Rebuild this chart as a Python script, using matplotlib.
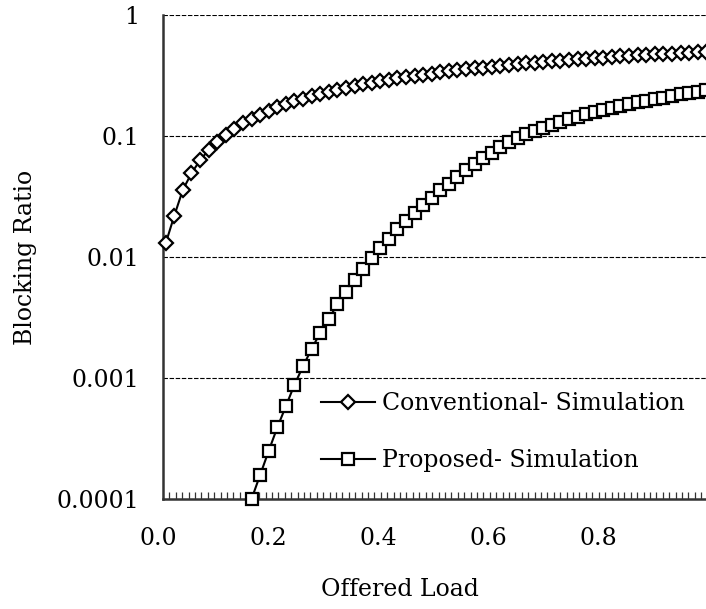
import numpy as np
import matplotlib
matplotlib.use("Agg")
import matplotlib.pyplot as plt
import matplotlib.transforms as mtransforms
from matplotlib.ticker import FixedLocator, NullLocator, FixedFormatter

# ---- data ----
load = [0.005, 0.0206, 0.0362, 0.0518, 0.0674, 0.083, 0.0986, 0.1142, 0.1298, 0.1454,
        0.161, 0.1766, 0.1922, 0.2078, 0.2234, 0.239, 0.2546, 0.2702, 0.2858, 0.3014,
        0.317, 0.3326, 0.3482, 0.3638, 0.3794, 0.395, 0.4106, 0.4262, 0.4418, 0.4574,
        0.473, 0.4886, 0.5042, 0.5198, 0.5354, 0.551, 0.5666, 0.5822, 0.5978, 0.6134,
        0.629, 0.6446, 0.6602, 0.6758, 0.6914, 0.707, 0.7226, 0.7382, 0.7538, 0.7694,
        0.785, 0.8006, 0.8162, 0.8318, 0.8474, 0.863, 0.8786, 0.8942, 0.9098, 0.9254,
        0.941, 0.9566, 0.9722, 0.9878]

conventional = [0.013, 0.022, 0.036, 0.0492, 0.0631, 0.0766, 0.0897, 0.1025, 0.1149, 0.1269,
                0.1387, 0.1501, 0.1612, 0.1721, 0.1826, 0.1929, 0.2029, 0.2127, 0.2223, 0.2316,
                0.2407, 0.2496, 0.2583, 0.2668, 0.2750, 0.2832, 0.2911, 0.2988, 0.3064, 0.3138,
                0.3211, 0.3282, 0.3352, 0.3420, 0.3487, 0.3553, 0.3617, 0.3680, 0.3741, 0.3802,
                0.3861, 0.3919, 0.3977, 0.4033, 0.4088, 0.4142, 0.4195, 0.4247, 0.4298, 0.4348,
                0.4398, 0.4446, 0.4494, 0.4541, 0.4587, 0.4632, 0.4677, 0.4721, 0.4764, 0.4806,
                0.4848, 0.4889, 0.4930, 0.4969]

proposed = [1.0e-4, 1.58e-4, 2.5e-4, 3.9e-4, 5.85e-4, 8.8e-4, 1.25e-3, 1.74e-3, 2.36e-3, 3.09e-3,
            4.05e-3, 5.13e-3, 6.44e-3, 8.0e-3, 9.9e-3, 1.19e-2, 1.42e-2, 1.69e-2, 1.97e-2, 2.31e-2,
            2.67e-2, 3.08e-2, 3.55e-2, 4.04e-2, 4.61e-2, 5.2e-2, 5.85e-2, 6.55e-2, 7.26e-2, 8.05e-2,
            8.86e-2, 9.69e-2, 0.104, 0.1106, 0.1175, 0.1244, 0.1309, 0.1375, 0.1445, 0.1508,
            0.1574, 0.1644, 0.1703, 0.1766, 0.1830, 0.1892, 0.1954, 0.2018, 0.2080, 0.2139,
            0.2203, 0.2265, 0.2323, 0.2388]

x_ticks = [0.0, 0.2, 0.4, 0.6, 0.8]
x_ticklabels = ["0.0", "0.2", "0.4", "0.6", "0.8"]
y_ticks = [1e-4, 1e-3, 1e-2, 1e-1, 1]
y_ticklabels = ["0.0001", "0.001", "0.01", "0.1", "1"]

series_names = ["Conventional- Simulation", "Proposed- Simulation"]

# ---- figure ----
plt.rcParams['font.family'] = ['DejaVu Serif']
FS = 17
W, H = 706, 609
fig = plt.figure(figsize=(W / 100, H / 100), dpi=100)
left_px, right_px, top_px, bot_px = 163, 713, 15, 499
ax = fig.add_axes([left_px / W, (H - bot_px) / H, (right_px - left_px) / W, (bot_px - top_px) / H])

prop_x = load[len(load) - len(proposed):]

ax.plot(load, conventional, color='black', lw=1.5, marker='D', ms=7.0, mfc='white',
        mec='black', mew=1.6, clip_on=False, label=series_names[0], zorder=3)
ax.plot(prop_x, proposed, color='black', lw=1.5, marker='s', ms=8.0, mfc='white',
        mec='black', mew=1.6, clip_on=False, label=series_names[1], zorder=3)

ax.set_yscale('log')
ax.set_ylim(1e-4, 1)
ax.set_xlim(0, 1.0)

ax.yaxis.set_major_locator(FixedLocator(y_ticks))
ax.yaxis.set_major_formatter(FixedFormatter(y_ticklabels))
ax.yaxis.set_minor_locator(NullLocator())
ax.tick_params(axis='y', which='major', length=0, pad=17, labelsize=FS)

ax.xaxis.set_major_locator(FixedLocator(x_ticks))
ax.xaxis.set_major_formatter(FixedFormatter(x_ticklabels))
ax.xaxis.set_minor_locator(FixedLocator(list(np.arange(0.0, 1.0, 0.01165))))
ax.tick_params(axis='x', which='major', length=0, pad=20, labelsize=FS)
ax.tick_params(axis='x', which='minor', direction='in', length=5, width=0.9, color='#333333')

# shift x tick labels slightly left, as in the reference
offset = mtransforms.ScaledTranslation(-5 / 100, 0, fig.dpi_scale_trans)
for lbl in ax.get_xticklabels():
    lbl.set_transform(lbl.get_transform() + offset)

for yv in [1e-3, 1e-2, 1e-1, 1]:
    ax.axhline(yv, color='black', lw=0.8, ls=(0, (4, 1.5)), zorder=1)

for s in ['top', 'right']:
    ax.spines[s].set_visible(False)
for s in ['left', 'bottom']:
    ax.spines[s].set_color('#333333')
    ax.spines[s].set_linewidth(1.8)

ax.set_ylabel("Blocking Ratio", fontsize=FS)
ax.yaxis.set_label_coords((25 - left_px) / (right_px - left_px), 0.5)
ax.yaxis.label.set_va('center')
ax.set_xlabel("Offered Load", fontsize=FS)
ax.xaxis.set_label_coords((400 - left_px) / (right_px - left_px), (bot_px - 590) / (bot_px - top_px))
ax.xaxis.label.set_va('center')

leg = ax.legend(loc='center left', bbox_to_anchor=(321 / W, (H - 432) / H),
                bbox_transform=fig.transFigure, frameon=False, fontsize=FS,
                handlelength=2.3, handletextpad=0.3, labelspacing=1.45, borderpad=0,
                borderaxespad=0)

fig.savefig("out.png", dpi=100)
